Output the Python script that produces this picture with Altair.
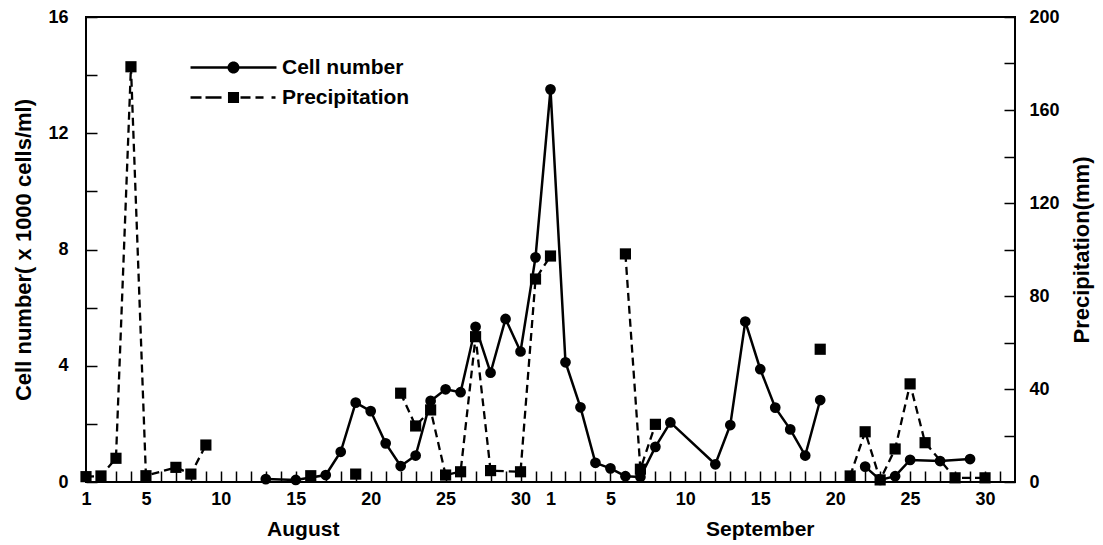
import altair as alt
import pandas as pd

# ---------------- data ----------------
cell_dates = ["08-13", "08-15", "08-17", "08-18", "08-19", "08-20", "08-21", "08-22",
              "08-23", "08-24", "08-25", "08-26", "08-27", "08-28", "08-29", "08-30",
              "08-31", "09-01", "09-02", "09-03", "09-04", "09-05", "09-06", "09-07",
              "09-08", "09-09", "09-12", "09-13", "09-14", "09-15", "09-16", "09-17",
              "09-18", "09-19",
              "09-22", "09-23", "09-24", "09-25", "09-27", "09-29"]
cell_values = [0.10, 0.07, 0.24, 1.04, 2.73, 2.44, 1.33, 0.55,
               0.91, 2.79, 3.19, 3.09, 5.34, 3.76, 5.61, 4.49,
               7.73, 13.51, 4.12, 2.57, 0.66, 0.47, 0.20, 0.17,
               1.21, 2.05, 0.61, 1.96, 5.52, 3.88, 2.56, 1.81,
               0.91, 2.82,
               0.53, 0.07, 0.20, 0.76, 0.72, 0.79]
cell_run = [1] * 34 + [2] * 6

precip_dates = ["08-01", "08-02", "08-03", "08-04", "08-05", "08-07", "08-08", "08-09",
                "08-16",
                "08-19",
                "08-22", "08-23", "08-24", "08-25", "08-26", "08-27", "08-28", "08-30",
                "08-31", "09-01",
                "09-06", "09-07", "09-08",
                "09-19",
                "09-21", "09-22", "09-23", "09-24", "09-25", "09-26", "09-28", "09-30"]
precip_values = [2.3, 2.6, 10.2, 178.6, 2.7, 6.3, 3.4, 15.9,
                 2.7,
                 3.4,
                 38.2, 24.1, 31.0, 3.0, 4.4, 62.5, 4.9, 4.4,
                 87.3, 97.2,
                 98.1, 5.5, 24.8,
                 57.1,
                 2.6, 21.6, 0.9, 14.2, 42.2, 16.9, 1.8, 1.8]
precip_run = [1] * 8 + [2] + [3] + [4] * 10 + [5] * 3 + [6] + [7] * 8

series_names = ["Cell number", "Precipitation"]
month_names = ["August", "September"]
month_centre = [14.5, 45.0]
x_label_days = [0, 4, 9, 14, 19, 24, 29, 31, 35, 40, 45, 50, 55, 60]
cell_ticks = [0, 2, 4, 6, 8, 10, 12, 14, 16]
precip_ticks = [0, 20, 40, 60, 80, 100, 120, 140, 160, 180, 200]


def day_index(md):
    m, d = md.split("-")
    return int(d) - 1 if m == "08" else 30 + int(d)


cell_df = pd.DataFrame({"d": [day_index(s) for s in cell_dates],
                        "v": cell_values, "run": cell_run})
precip_df = pd.DataFrame({"d": [day_index(s) for s in precip_dates],
                          "p": precip_values, "run": precip_run})
legend_df = pd.DataFrame({"series": series_names, "d": [None, None], "v": [None, None]})
month_df = pd.DataFrame({"m": month_names, "d": month_centre})

W, H = 929, 465
FONT = "Liberation Sans"
TICK = 11

xscale = alt.Scale(domain=[0, 62], nice=False, zero=False)
cscale = alt.Scale(domain=[0, 16], nice=False)
pscale = alt.Scale(domain=[0, 200], nice=False)

x_axis = alt.Axis(
    values=list(range(62)),
    labelExpr="indexof(" + str(x_label_days) + ", datum.value) >= 0 ? "
              "(datum.value < 31 ? datum.value + 1 : datum.value - 30) : ''",
    title=None, grid=False, domain=False, offset=-TICK, tickSize=TICK,
    tickColor="black", tickWidth=1.5, labelPadding=8,
    labelFont=FONT, labelFontSize=18, labelFontWeight="bold", labelColor="black",
    labelOverlap=False, labelFlush=False,
)
left_axis = alt.Axis(
    values=cell_ticks, labelExpr="datum.value % 4 == 0 ? datum.label : ''",
    title="Cell number( x 1000 cells/ml)", grid=False, domain=False,
    offset=-TICK, tickSize=TICK, tickColor="black", tickWidth=1.5,
    labelPadding=18, labelFont=FONT, labelFontSize=18, labelFontWeight="bold",
    labelColor="black", labelOverlap=False, labelFlush=False,
    titleFont=FONT, titleFontSize=22, titleFontWeight="bold", titleColor="black",
    titlePadding=12,
)
right_axis = alt.Axis(
    orient="right", values=precip_ticks,
    labelExpr="datum.value % 40 == 0 ? datum.label : ''",
    title="Precipitation(mm)", grid=False, domain=False,
    offset=-TICK, tickSize=TICK, tickColor="black", tickWidth=1.5,
    labelPadding=14, labelFont=FONT, labelFontSize=18, labelFontWeight="bold",
    labelColor="black", labelOverlap=False, labelFlush=False,
    titleFont=FONT, titleFontSize=22, titleFontWeight="bold", titleColor="black",
    titleAngle=270, titlePadding=34,
)

# legend symbols (unit = 7 px): a thin bar (the line) with the marker in the middle
cell_symbol = ("M-6.14,-0.18L6.14,-0.18L6.14,0.18L-6.14,0.18Z"
               "M0.86,0A0.86,0.86,0,1,1,-0.86,0A0.86,0.86,0,1,1,0.86,0Z")
precip_symbol = ("M-6.14,-0.18L-4.57,-0.18L-4.57,0.18L-6.14,0.18Z"
                 "M-4.0,-0.18L-1.71,-0.18L-1.71,0.18L-4.0,0.18Z"
                 "M-0.79,-0.79L0.79,-0.79L0.79,0.79L-0.79,0.79Z"
                 "M1.0,-0.18L2.43,-0.18L2.43,0.18L1.0,0.18Z"
                 "M3.14,-0.18L4.29,-0.18L4.29,0.18L3.14,0.18Z"
                 "M5.43,-0.18L6.0,-0.18L6.0,0.18L5.43,0.18Z")

cell_line = alt.Chart(cell_df).mark_line(color="black", strokeWidth=2.5).encode(
    x=alt.X("d:Q", scale=xscale, axis=x_axis),
    y=alt.Y("v:Q", scale=cscale, axis=left_axis),
    detail="run:N",
)
cell_pts = alt.Chart(cell_df).mark_point(
    filled=True, shape="circle", size=115, color="black", opacity=1
).encode(
    x=alt.X("d:Q", scale=xscale, axis=x_axis),
    y=alt.Y("v:Q", scale=cscale, axis=left_axis),
)
legend_layer = alt.Chart(legend_df).mark_point(
    filled=True, color="black", opacity=1, size=196, strokeWidth=0
).encode(
    x=alt.X("d:Q", scale=xscale, axis=x_axis),
    y=alt.Y("v:Q", scale=cscale, axis=left_axis),
    shape=alt.Shape(
        "series:N",
        scale=alt.Scale(domain=series_names, range=[cell_symbol, precip_symbol]),
        legend=alt.Legend(
            title=None, orient="none", legendX=137, legendY=40,
            symbolSize=196, symbolFillColor="black", symbolStrokeWidth=0,
            symbolOpacity=1,
            labelFont=FONT, labelFontSize=21, labelFontWeight="bold",
            labelColor="black", labelOffset=38, rowPadding=8, padding=0,
        ),
    ),
)
month_text = alt.Chart(month_df).mark_text(
    font=FONT, fontSize=21, fontWeight="bold", color="black",
    align="center", baseline="middle"
).encode(
    x=alt.X("d:Q", scale=xscale, axis=x_axis),
    y=alt.value(H + 48),
    text="m:N",
)

precip_line = alt.Chart(precip_df).mark_line(
    color="black", strokeWidth=2.3, strokeDash=[8, 5]
).encode(
    x=alt.X("d:Q", scale=xscale, axis=x_axis),
    y=alt.Y("p:Q", scale=pscale, axis=right_axis),
    detail="run:N",
)
precip_pts = alt.Chart(precip_df).mark_point(
    filled=True, shape="square", size=125, color="black", opacity=1
).encode(
    x=alt.X("d:Q", scale=xscale, axis=x_axis),
    y=alt.Y("p:Q", scale=pscale, axis=right_axis),
)

cell_group = alt.layer(cell_line, cell_pts, legend_layer, month_text)
precip_group = alt.layer(precip_line, precip_pts)

chart = alt.layer(cell_group, precip_group).resolve_scale(
    y="independent"
).properties(
    width=W, height=H,
    autosize=alt.AutoSizeParams(type="none"),
    padding={"left": 86, "top": 17, "right": 88, "bottom": 63},
    background="white",
).configure_view(stroke="black", strokeWidth=2)

chart.save("out.html", embed_options={"renderer": "svg", "actions": False})
